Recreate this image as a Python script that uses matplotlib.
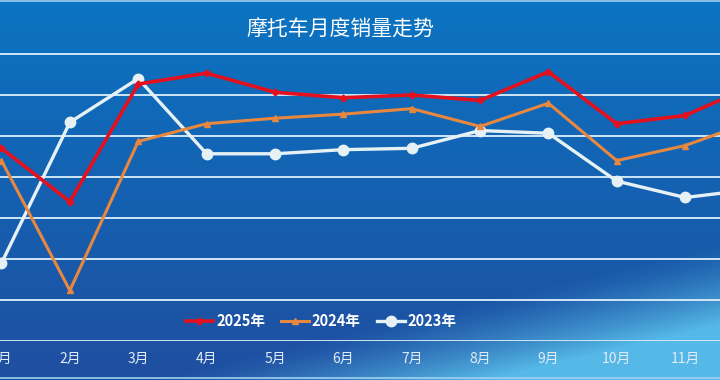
import numpy as np
import matplotlib
matplotlib.use("Agg")
import matplotlib.pyplot as plt
from matplotlib.lines import Line2D

plt.rcParams['font.family'] = ['Noto Sans CJK SC', 'DejaVu Sans']

title = "摩托车月度销量走势"
months = ["1月", "2月", "3月", "4月", "5月", "6月", "7月", "8月", "9月", "10月", "11月", "12月"]
sales_2025 = [141, 102, 188, 196, 182, 178, 180, 176, 197, 159, 165, 187]
sales_2024 = [132, 37, 146, 159, 163, 166, 170, 157, 174, 132, 143, 161]
sales_2023 = [57, 160, 192, 137, 137, 140, 141, 154, 152, 117, 105, 111]
grid_values = [0, 30, 60, 90, 120, 150, 180, 210]

W, H = 720, 380
fig = plt.figure(figsize=(W / 100, H / 100), dpi=100)

# background gradient
bg = fig.add_axes([0, 0, 1, 1], zorder=0)
yy, xx = np.mgrid[0:H, 0:W]
t = yy / H
top = np.array([0x0b, 0x74, 0xc2]) / 255
bot = np.array([0x1f, 0x4e, 0xa0]) / 255
img = top[None, None, :] * (1 - t[..., None]) + bot[None, None, :] * t[..., None]
# light swoosh bottom right
sw = np.clip(((xx - 380) / 340) * 1.0 + (yy - 300) / 80, 0, None)
sw = np.clip(sw - 0.3, 0, 1) ** 1.3
light = np.array([0x55, 0xb8, 0xe6]) / 255
img = img * (1 - sw[..., None]) + light[None, None, :] * sw[..., None]
img = np.clip(img, 0, 1)
bg.imshow(img, aspect='auto', extent=[0, W, H, 0])
bg.set_xlim(0, W)
bg.set_ylim(H, 0)
bg.axis('off')
bg.axhline(1, color='#9fd0f0', lw=1.2)
bg.axhline(378, color='#9fd0f0', lw=1.2)

# main axes: bottom at pixel 341 from top
ax = fig.add_axes([0, 39 / H, 1, 341 / H], zorder=1)
ax.patch.set_alpha(0)
x = np.arange(len(months))

for g in grid_values:
    ax.axhline(g, color='#cfe6f7', lw=1.4, zorder=1)

ax.plot(x, sales_2023, color='#e6f1f5', lw=2.4, marker='o', ms=7.5, zorder=3, clip_on=False)
ax.plot(x, sales_2024, color='#e8873e', lw=2.2, marker='^', ms=5, zorder=4, clip_on=False)
ax.plot(x, sales_2025, color='#e4101e', lw=2.6, marker='D', ms=3.5, zorder=5, clip_on=False)

ax.set_xticks(x)
ax.set_xticklabels(months, color='#e2ecf7', fontsize=10)
ax.tick_params(axis='x', length=0, pad=8)
ax.set_yticks([])
for s in ax.spines.values():
    s.set_visible(False)

px = 68.65
ax.set_xlim(-1.5 / px, 10 + 35 / px)
ax.set_ylim(0, 341 * 30 / 41)

fig.text(340 / W, 1 - 30 / H, title, color='white', fontsize=15, ha='center', va='center')

handles = [
    Line2D([], [], color='#e4101e', lw=2.6, marker='D', ms=3.5),
    Line2D([], [], color='#e8873e', lw=2.2, marker='^', ms=5),
    Line2D([], [], color='#e6f1f5', lw=2.4, marker='o', ms=7.5),
]
leg = fig.legend(handles, ["2025年", "2024年", "2023年"], loc='center',
                 bbox_to_anchor=(321 / W, 1 - 321 / H), ncol=3, frameon=False,
                 handlelength=1.9, handletextpad=0.2, columnspacing=1.1,
                 prop={'weight': 'bold', 'size': 10.5})
for txt in leg.get_texts():
    txt.set_color('white')

fig.savefig('out.png', dpi=100)
